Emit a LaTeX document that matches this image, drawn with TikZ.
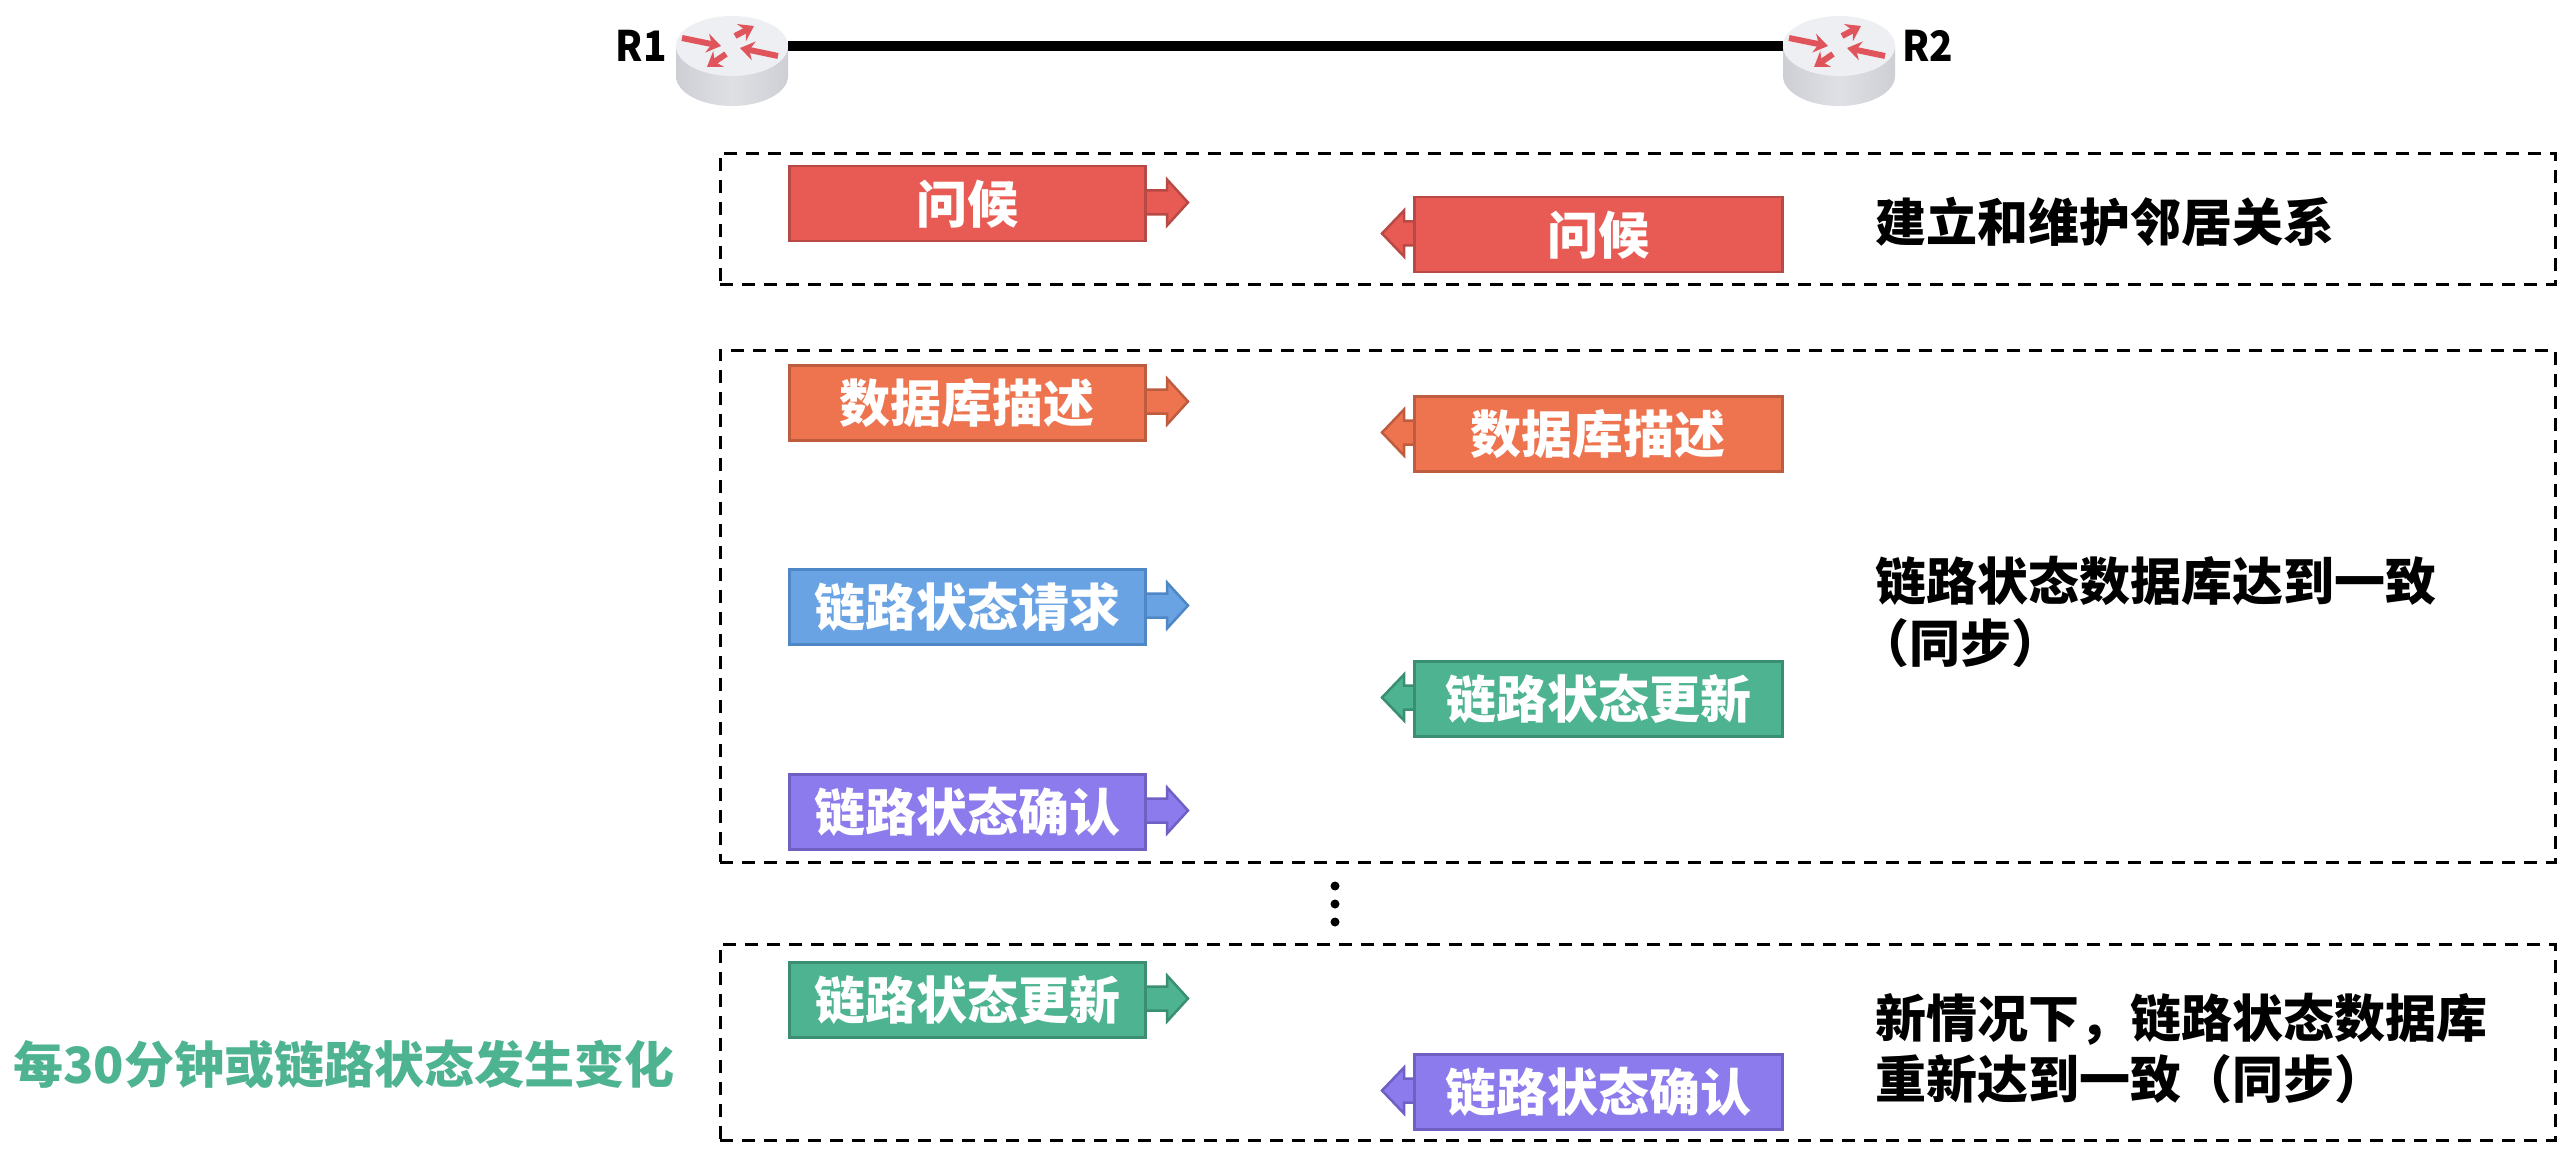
\documentclass[tikz,border=0pt]{standalone}
\usepackage{fontspec}
\setmainfont{Noto Sans CJK SC}
\usetikzlibrary{arrows.meta,shapes.geometric}
\definecolor{cred}{HTML}{E85B54}\definecolor{credd}{HTML}{B84A45}
\definecolor{corg}{HTML}{EE7450}\definecolor{corgd}{HTML}{BE5C40}
\definecolor{cblu}{HTML}{6AA3E3}\definecolor{cblud}{HTML}{4F86C6}
\definecolor{cgrn}{HTML}{4DB391}\definecolor{cgrnd}{HTML}{3A8F73}
\definecolor{cpur}{HTML}{8C7BEC}\definecolor{cpurd}{HTML}{6F60C4}
\definecolor{rtop}{HTML}{EEEFF2}\definecolor{rside}{HTML}{CDCFD5}\definecolor{rsidel}{HTML}{DFE0E4}\definecolor{rarrow}{HTML}{E0555C}
\tikzset{
 x=1pt,y=-1pt,
 txt/.style={font=\fontsize{51}{62}\selectfont\bfseries,inner sep=0pt},
 msgbox/.style={draw=#1d,fill=#1,line width=2.5pt,minimum width=356pt,minimum height=75pt,inner sep=0pt,text=white,font=\fontsize{51}{62}\selectfont\bfseries},
 msgtip/.style={draw=#1d,fill=#1,line width=2.5pt,line join=miter},
 groupbox/.style={draw=black,line width=2.6pt,dash pattern=on 13pt off 9pt,fill=none},
 rlabel/.style={font=\fontsize{42}{50}\selectfont\bfseries,inner sep=0pt,xscale=.92},
 rtopst/.style={ellipse,fill=rtop,minimum width=112pt,minimum height=60pt,inner sep=0pt},
 rarr/.style={draw=rarrow,line width=6pt,-{Stealth[length=14pt,width=19pt]}},
}
\newcommand{\msgright}[5]{% name, left x, top y, colour, text
 \draw[msgtip=#4] (#2+350,#3+25.5) -- (#2+379,#3+25.5) -- (#2+379,#3+14.5) -- (#2+400,#3+37.5) -- (#2+379,#3+60.5) -- (#2+379,#3+49.5) -- (#2+350,#3+49.5) -- cycle;
 \node[msgbox=#4,anchor=north west] (#1) at (#2,#3) {#5};
}
\newcommand{\msgleft}[5]{% name, left x, top y, colour, text
 \draw[msgtip=#4] (#2+5,#3+25.5) -- (#2-9,#3+25.5) -- (#2-9,#3+14.5) -- (#2-31,#3+37.5) -- (#2-9,#3+60.5) -- (#2-9,#3+49.5) -- (#2+5,#3+49.5) -- cycle;
 \node[msgbox=#4,minimum width=368pt,anchor=north west] (#1) at (#2,#3) {#5};
}
\newcommand{\routerdraw}[3]{% name, cx, cy
 \shade[left color=rside,right color=rside,middle color=rsidel] (#2-56,#3) -- (#2-56,#3+30) arc[start angle=180,end angle=360,x radius=56,y radius=-30] -- (#2+56,#3) -- cycle;
 \node[rtopst] (#1) at (#2,#3) {};
 \draw[rarr] (#2-50,#3-8) -- (#2-11,#3);
 \draw[rarr] (#2+3,#3-10) -- (#2+22,#3-20);
 \draw[rarr] (#2+46,#3+10) -- (#2+8,#3+2);
 \draw[rarr] (#2-6,#3+8) -- (#2-25,#3+21);
}
\begin{document}
\begin{tikzpicture}
\useasboundingbox (0,0) rectangle (2568,1158);
\fill[white] (0,0) rectangle (2568,1158);
\routerdraw{r1}{732}{46}
\routerdraw{r2}{1839}{46}
\draw[line width=10pt] (r1.east) -- (r2.west);
\node[rlabel,anchor=east] (l1) at (667,46) {R1};
\node[rlabel,anchor=west] (l2) at (1902,46) {R2};
\node[groupbox,draw,minimum width=1835pt,minimum height=131pt,anchor=north west] (g1) at (719,152) {};
\node[groupbox,draw,minimum width=1835pt,minimum height=512pt,anchor=north west] (g2) at (719,349) {};
\node[groupbox,draw,minimum width=1835pt,minimum height=196pt,anchor=north west] (g3) at (719,943) {};
\msgright{a1}{788}{165}{cred}{问候}
\msgleft{b1}{1413}{196}{cred}{问候}
\msgright{a2}{788}{364}{corg}{数据库描述}
\msgleft{b2}{1413}{395}{corg}{数据库描述}
\msgright{a3}{788}{568}{cblu}{链路状态请求}
\msgleft{b3}{1413}{660}{cgrn}{链路状态更新}
\msgright{a4}{788}{773}{cpur}{链路状态确认}
\msgright{a5}{788}{961}{cgrn}{链路状态更新}
\msgleft{b5}{1413}{1053}{cpur}{链路状态确认}
\node[txt,anchor=west] (t1) at (1875,222) {建立和维护邻居关系};
\node[txt,anchor=west] (t2) at (1875,581) {链路状态数据库达到一致};
\node[txt,anchor=west] (t3) at (1858,643) {（同步）};
\node[txt,anchor=west] (t4) at (1875,1019) {新情况下，链路状态数据库};
\node[txt,anchor=west] (t5) at (1875,1079) {重新达到一致（同步）};
\node[txt,anchor=west,text=cgrn,font=\fontsize{50}{60}\selectfont\bfseries] (t6) at (13,1064) {每30分钟或链路状态发生变化};
\fill[black] (1335,886) circle (4.5pt) (1335,904) circle (4.5pt) (1335,922) circle (4.5pt);
\end{tikzpicture}
\end{document}
